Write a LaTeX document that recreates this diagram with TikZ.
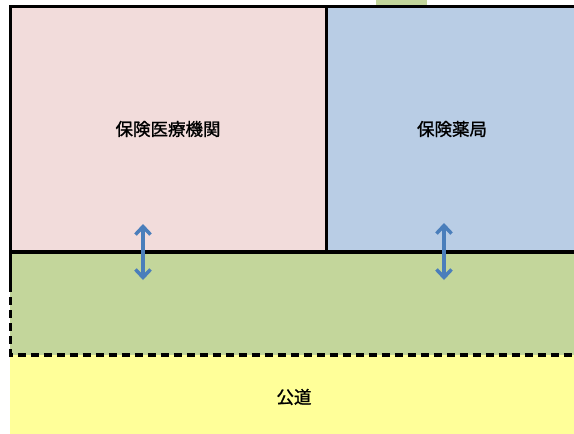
\documentclass[tikz,border=0pt]{standalone}
\usepackage{fontspec}
\newfontfamily\jpfont[FakeBold=1.2,AutoFakeBold=1.2]{Noto Sans CJK JP}
\usetikzlibrary{arrows.meta}
\definecolor{pinkc}{HTML}{F2DCDB}
\definecolor{bluec}{HTML}{B9CDE5}
\definecolor{greenc}{HTML}{C3D69B}
\definecolor{yellowc}{HTML}{FFFF99}
\definecolor{arrowc}{HTML}{4A7EBB}
\tikzset{
  wall/.style={line width=3.2pt, black},
  dashwall/.style={line width=3.2pt, black, dash pattern=on 8pt off 5pt},
  lbl/.style={font=\jpfont\fontsize{17.5}{17.5}\selectfont, inner sep=0pt},
  dbl/.style={line width=3.5pt, arrowc, {Straight Barb[length=8pt,width=15pt,line width=3.5pt]}-{Straight Barb[length=8pt,width=15pt,line width=3.5pt]}},
}
\begin{document}
\begin{tikzpicture}[x=1pt,y=-1pt]
\useasboundingbox (0,0) rectangle (574,434);
\fill[white] (0,0) rectangle (574,434);
% regions
\fill[pinkc] (10,6) rectangle (327,252);
\fill[bluec] (327,6) rectangle (574,252);
\fill[greenc] (10,252) rectangle (574,355);
\fill[yellowc] (10,355) rectangle (574,434);
\fill[greenc] (376,0) rectangle (427,6);
% walls
\coordinate (tl) at (10.5,6.5);
\coordinate (tr) at (574,6.5);
\coordinate (ml) at (10.5,252);
\coordinate (mr) at (574,252);
\coordinate (dv) at (326.5,6.5);
\coordinate (dvb) at (326.5,252);
\coordinate (ls) at (10.5,284);
\coordinate (bl) at (10.5,355);
\coordinate (br) at (574,355);
\draw[wall] (tr) -- (tl) -- (ls);
\draw[wall] (ml) -- (mr);
\draw[wall] (dv) -- (dvb);
\draw[dashwall] (ls) -- (bl) -- (br);
% labels
\node[lbl] (clinic) at (168,129) {保険医療機関};
\node[lbl] (pharm) at (452,129) {保険薬局};
\node[lbl] (road) at (294,397) {公道};
% arrows
\coordinate (a1t) at (143,224);
\coordinate (a1b) at (143,280);
\coordinate (a2t) at (444,223);
\coordinate (a2b) at (444,280);
\draw[dbl] (a1t) -- (a1b);
\draw[dbl] (a2t) -- (a2b);
\end{tikzpicture}
\end{document}
